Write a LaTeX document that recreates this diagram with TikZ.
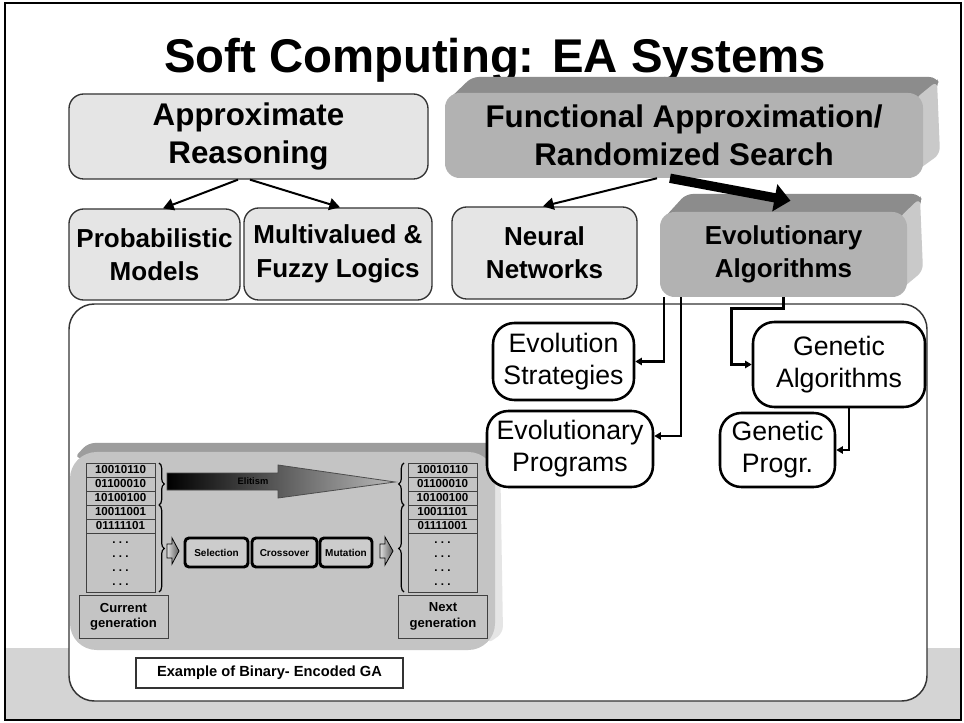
\documentclass[tikz,border=0pt]{standalone}
\usepackage{fontspec}
\setmainfont{Liberation Sans}
\usetikzlibrary{calc}
\usetikzlibrary{arrows.meta}
\usetikzlibrary{decorations.pathreplacing}
\definecolor{boxgray}{gray}{0.90}
\definecolor{facegray}{gray}{0.70}
\definecolor{topgray}{gray}{0.55}
\definecolor{sidegray}{gray}{0.79}
\definecolor{panelgray}{gray}{0.77}
\definecolor{bandgray}{gray}{0.83}
\newcommand*{\fhead }{\fontsize{35.5}{42}\selectfont\bfseries}
\newcommand*{\fbig  }{\fontsize{23.5}{28.5}\selectfont\bfseries}
\newcommand*{\fmid  }{\fontsize{19.5}{25}\selectfont\bfseries}
\newcommand*{\fchild}{\fontsize{20}{24}\selectfont}
\newcommand*{\fbit  }{\fontsize{8.7}{10}\selectfont\bfseries}
\newcommand*{\fgen  }{\fontsize{9.8}{11.5}\selectfont\bfseries}
\newcommand*{\fstep }{\fontsize{7.5}{9}\selectfont\bfseries}
\newcommand*{\felit }{\fontsize{7}{8}\selectfont\bfseries}
\newcommand*{\fcap  }{\fontsize{11}{13}\selectfont\bfseries}
% x1 y1 x2 y2 of the front face, depth dx dy (px), top colour, side colour
\newcommand*{\bevel}[8]{%
    \fill[#7, rounded corners=5pt] ({#1+4},{#2+6}) -- ({#1+#5+10},{#2-#6}) -- ({#3+#5-4},{#2-#6}) -- ({#3+#5},{#2-#6+8}) -- ({#3},{#2+8}) -- cycle;
    \fill[#8, rounded corners=5pt] ({#3-8},{#2+6}) -- ({#3+#5-3},{#2-#6+4}) -- ({#3+#5},{#4-#6-8}) -- ({#3-8},{#4-6}) -- cycle;
}

\begin{document}
\begin{tikzpicture}[x=0.75pt, y=-0.75pt,
    greybox/.style={draw=black!80, line width=1pt, fill=boxgray, rounded corners=11pt, align=center, inner sep=0pt},
    facebox/.style={fill=facegray, rounded corners=11pt, align=center, inner sep=0pt},
    childbox/.style={draw=black, line width=1.9pt, fill=white, rounded corners=16pt, align=center, inner sep=0pt, font=\fchild},
    bitcell/.style={draw=black!75, line width=0.6pt, fill=panelgray, minimum width=51.75pt, minimum height=10.5pt, inner sep=0pt, font=\fbit},
    genbox/.style={draw=black!75, line width=0.6pt, fill=panelgray, minimum width=66.75pt, minimum height=32.25pt, align=center, inner sep=0pt, font=\fgen},
    stepbox/.style={draw=black, line width=2.2pt, fill=gray!40, rounded corners=3pt, minimum height=21.75pt, text height=5.5pt, text depth=0pt, inner sep=0pt, font=\fstep},
    chevron/.style={left color=gray!25, right color=black!65, draw=black, line width=0.6pt},
    gabrace/.style={decorate, decoration={brace, amplitude=4pt}, line width=0.9pt},
    link/.style={line width=1.5pt, -{Triangle[length=8pt,width=9pt]}},
    tree/.style={line width=1.9pt, -{Triangle[length=5pt,width=5.5pt]}}]
    \useasboundingbox (0,0) rectangle (964,723);
    \fill[white] (0,0) rectangle (964,723);
    \fill[bandgray] (5,648) rectangle (961,720);
    \draw[line width=1.5pt] (5,3) rectangle (961,720);
    \draw[line width=1.1pt, draw=black!80, fill=white, rounded corners=19pt] (69,304) rectangle (927,701);

    \node[font=\fhead, anchor=base] (title) at (495,73) {Soft Computing: EA Systems};

    % upper tree
    \node[greybox, minimum width=269.25pt, minimum height=63.75pt, font=\fbig] (reason) at (248.5,136.5) {Approximate\\Reasoning};
    \node[greybox, minimum width=128.25pt, minimum height=68.25pt, font=\fmid] (prob) at (154.5,254.5) {Probabilistic\\Models};
    \node[greybox, minimum width=141pt, minimum height=69pt, font=\fmid] (fuzzy) at (338,254) {Multivalued \&\\Fuzzy Logics};
    \node[greybox, minimum width=138.75pt, minimum height=69pt, font=\fmid] (neural) at (544.5,253) {Neural\\Networks};
    \bevel{445}{93}{923}{178}{17}{16}{topgray}{sidegray}
    \node[facebox, minimum width=358.5pt, minimum height=63.75pt, font=\fbig] (funcs) at (684,135.5) {Functional Approximation/\\Randomized Search};
    \bevel{660}{212}{907}{297}{16}{18}{topgray}{sidegray}
    \node[facebox, minimum width=185.25pt, minimum height=63.75pt, font=\fmid] (evol) at (783.5,254.5) {Evolutionary\\Algorithms};

    % binary GA panel
    \bevel{70}{452}{495}{650}{8}{9}{panelgray!80!black}{panelgray!45!white}
    \fill[panelgray, rounded corners=20pt] (70,452) rectangle (495,650);
    \foreach \bits [count=\i] in {10010110,01100010,10100100,10011001,01111101}
        \node[bitcell] (cur\i) at (120.5,456+14*\i) {\bits};
    \foreach \bits [count=\i] in {10010110,01100010,10100100,10011101,01111001}
        \node[bitcell] (nxt\i) at (442.5,456+14*\i) {\bits};
    \draw[black!75, line width=0.6pt, fill=panelgray] (86,533) rectangle (155,592);
    \draw[black!75, line width=0.6pt, fill=panelgray] (408,533) rectangle (477,592);
    \foreach \y in {543,557,571,585} {
        \node[font=\fbit] (curdots\y) at (120.5,\y) {.\ .\ .};
        \node[font=\fbit] (nxtdots\y) at (442.5,\y) {.\ .\ .};
    }
    \node[genbox] (current) at (123.5,616.5) {Current\\generation};
    \node[genbox] (next) at (443,616.5) {Next\\generation};
    \draw[gabrace] (159,463) -- (159,505);
    \draw[gabrace] (159,505) -- (159,592);
    \draw[gabrace] (404,505) -- (404,463);
    \draw[gabrace] (404,592) -- (404,505);
    \shade[left color=black, middle color=gray!80, right color=gray!55, draw=black!70, line width=0.6pt] (167,473) -- (278,473) -- (278,465) -- (395,482) -- (278,498) -- (278,490) -- (167,490) -- cycle;
    \node[font=\felit, text=black] (elit) at (253,481) {Elitism};
    \shade[chevron] (167,544) -- (172,544) -- (172,538) -- (179,551) -- (172,564) -- (172,558) -- (167,558) -- cycle;
    \shade[chevron] (380,544) -- (385,544) -- (385,537) -- (393,551) -- (385,565) -- (385,558) -- (380,558) -- cycle;
    \node[stepbox, minimum width=47.25pt] (select) at (216.5,552.5) {Selection};
    \node[stepbox, minimum width=48.75pt] (cross) at (284.5,552.5) {Crossover};
    \node[stepbox, minimum width=39pt] (mutate) at (346,552.5) {Mutation};
    \node[draw=black!80, line width=0.8pt, fill=white, minimum width=200.25pt, minimum height=22.5pt, inner sep=0pt, font=\fcap] (caption) at (269.5,673) {Example of Binary- Encoded GA};

    % lower tree
    \node[childbox, minimum width=105.75pt, minimum height=57.75pt] (strat) at (563.5,361.5) {Evolution\\Strategies};
    \node[childbox, minimum width=124.5pt, minimum height=57pt] (prog) at (570,449) {Evolutionary\\Programs};
    \node[childbox, minimum width=129pt, minimum height=63.75pt] (genalg) at (839,364.5) {Genetic\\Algorithms};
    \node[childbox, minimum width=86.25pt, minimum height=55.5pt] (genprog) at (777.5,450) {Genetic\\Progr.};

    \draw[link] ($(reason.south)+(-10.5,0)$) -- ($(prob.north)+(8.5,0)$);
    \draw[link] ($(reason.south)+(1.5,0)$) -- ($(fuzzy.north)+(2,0)$);
    \draw[link] ($(funcs.south)+(-27,0)$) -- ($(neural.north)+(-1.5,0)$);
    \draw[line width=7pt, -{Triangle[length=12pt,width=20pt]}] ($(funcs.south)+(-14,0)$) -- ($(evol.north)+(7,-11)$);
    \draw[tree] ($(evol.south)+(-119.5,0)$) |- (strat.east);
    \draw[tree] ($(evol.south)+(-102.5,0)$) |- ($(prog.east)+(0,-13)$);
    \draw[tree] (evol.south) -- ++(0,11) -- ++(-52,0) |- (genalg.west);
    \draw[tree] ($(genalg.south)+(10,0)$) |- (genprog.east);
\end{tikzpicture}
\end{document}
